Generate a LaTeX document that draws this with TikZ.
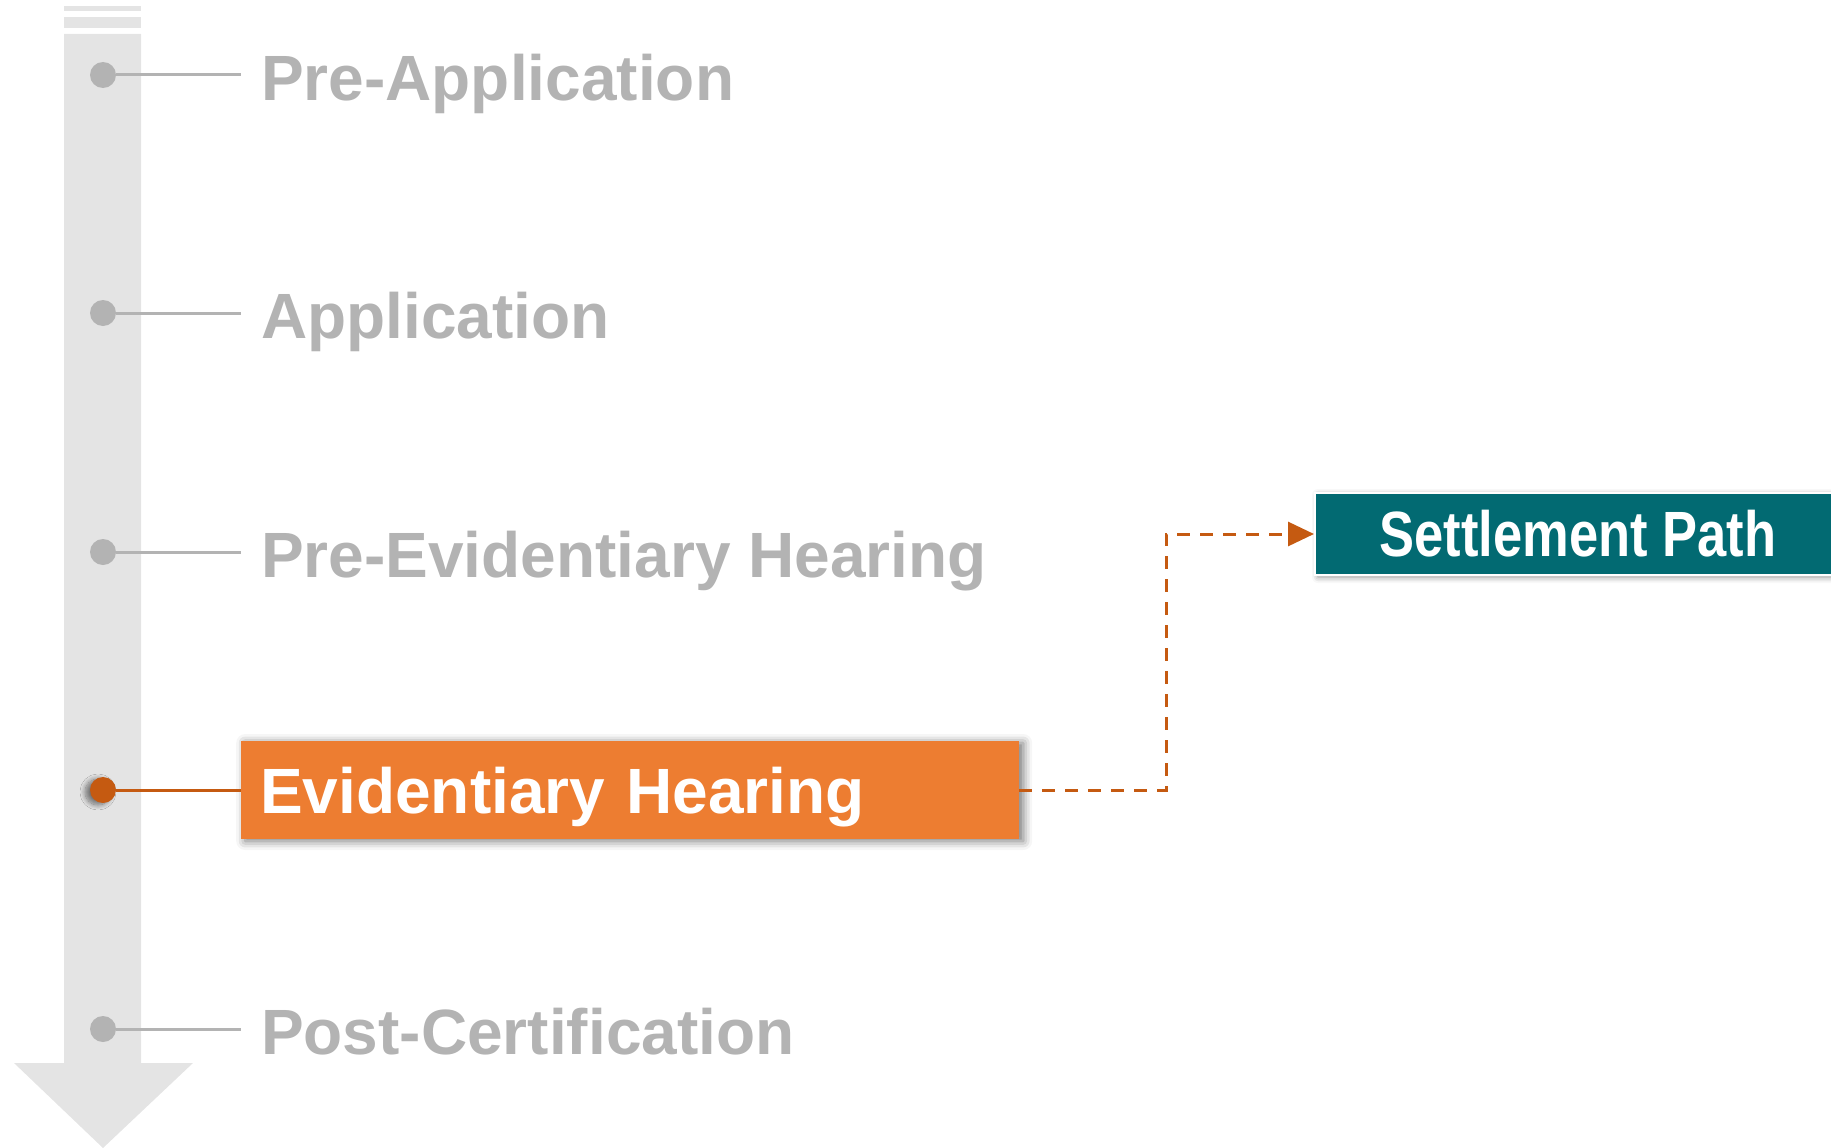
\documentclass[tikz,border=0pt]{standalone}
\usepackage{fontspec}
\setmainfont{Liberation Sans}
\newfontfamily\narrowfont[FakeStretch=0.82]{Liberation Sans}
\usepackage{xcolor}
\usetikzlibrary{arrows.meta, positioning, calc, shadows.blur}

\definecolor{barGray}{HTML}{E4E4E4}
\definecolor{stageGray}{HTML}{B3B3B3}
\definecolor{evidOrange}{HTML}{ED7D31}
\definecolor{darkOrange}{HTML}{C55A11}
\definecolor{settleTeal}{HTML}{026A72}

\begin{document}
\begin{tikzpicture}[x=1pt, y=-1pt]
			\tikzstyle{dot} = [circle, inner sep=0pt, minimum size=26pt, fill=stageGray]
			\tikzstyle{hotdot} = [dot, fill=darkOrange, blur shadow={shadow xshift=-5pt, shadow yshift=-2pt, shadow blur radius=5pt, shadow blur steps=10, shadow opacity=50}]
			\tikzstyle{stage} = [anchor=base west, inner xsep=20pt, inner ysep=0pt, text=stageGray, font=\fontsize{64}{70}\selectfont\bfseries]
			\tikzstyle{stem} = [stageGray, line width=3pt]
			\tikzstyle{evidbox} = [anchor=west, fill=evidOrange, text=white, inner xsep=19pt, inner ysep=0pt, minimum height=98pt, text width=740pt, text depth=0pt, align=left, font=\fontsize{64}{70}\selectfont\bfseries, blur shadow={shadow xshift=4pt, shadow yshift=-2pt, shadow blur radius=9pt, shadow opacity=55}]
			\tikzstyle{settlebox} = [anchor=west, fill=settleTeal, draw=white, line width=2pt, text=white, minimum height=82pt, minimum width=526pt, font=\narrowfont\fontsize{64}{70}\selectfont\bfseries, blur shadow={shadow xshift=3pt, shadow yshift=-2pt, shadow blur radius=6pt, shadow opacity=45}]
			\tikzstyle{arrow} = [darkOrange, line width=3pt, dash pattern=on 13pt off 10pt, -{Triangle[length=26pt, width=24pt]}]
			
			\useasboundingbox (0,0) rectangle (1831,1148);
			
			% Timeline bar
			\fill[barGray] (64,6) rectangle (141,11);
			\fill[barGray] (64,17) rectangle (141,28);
			\fill[barGray] (64,34) -- (141,34) -- (141,1063) -- (193,1063) -- (103,1148) -- (14,1063) -- (64,1063) -- cycle;
			
			% Nodes
			\node (d1) [dot] at (103,75) {};
			\node (d2) [dot] at (103,313) {};
			\node (d3) [dot] at (103,552) {};
			\node (d5) [dot] at (103,1029) {};
			
			\node (preapp) [stage] at (241,100) {Pre-Application};
			\node (app) [stage] at (241,338) {Application};
			\node (preevid) [stage] at (241,577) {Pre-Evidentiary Hearing};
			\node (postcert) [stage] at (241,1054) {Post-Certification};
			
			\node (evid) [evidbox] at (241,790) {Evidentiary Hearing};
			\node (d4) [hotdot] at (103,790) {};
			
			\node (settle) [settlebox] at (1314,534) {Settlement Path};
			\coordinate (bend) at (1166,534);
			
			% Stems
			\draw [stem] (d1) -- (d1 -| preapp.west);
			\draw [stem] (d2) -- (d2 -| app.west);
			\draw [stem] (d3) -- (d3 -| preevid.west);
			\draw [stem] (d5) -- (d5 -| postcert.west);
			\draw [darkOrange, line width=3pt] (d4) -- (evid.west);
			
			% Arrows
			\draw [arrow] (evid.east) -| (bend) -- (settle.west);
			
		\end{tikzpicture}
\end{document}
